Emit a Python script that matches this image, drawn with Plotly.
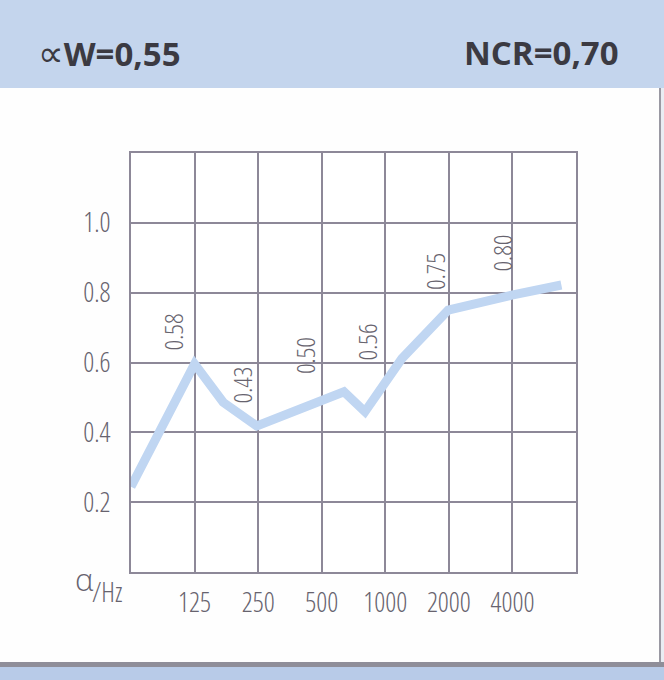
import plotly.graph_objects as go

# ---- data ----
freq_labels = ["125", "250", "500", "1000", "2000", "4000"]
alpha_values = [0.58, 0.43, 0.50, 0.56, 0.75, 0.80]
y_tick_labels = ["0.2", "0.4", "0.6", "0.8", "1.0"]
# hand-drawn curve (position on frequency axis in band units, alpha)
curve_pos = [0.0, 1.0, 1.45, 1.98, 3.35, 3.68, 4.26, 4.99, 5.99, 6.77]
curve_alpha = [0.244, 0.596, 0.486, 0.418, 0.516, 0.459, 0.611, 0.75, 0.793, 0.822]
header_symbol = "∝"
header_left = "W=0,55"
header_right = "NCR=0,70"

# ---- styling / layout ----
W, H = 664, 680
L, R, T, B = 131, 576, 153, 572
FONT = "Open Sans, Noto Sans, DejaVu Sans, sans-serif"
GRID = "#8d8898"
TXT = "#67636e"
HEAD = "#3b3a42"
WT = 360


def cond(s, pct=75):
    return f'<span style="font-stretch:{pct}%">{s}</span>'


label_dx = [-0.34, -0.26, -0.26, -0.29, -0.22, -0.17]
label_y = [0.689, 0.536, 0.619, 0.660, 0.862, 0.914]

fig = go.Figure()
fig.add_trace(go.Scatter(
    x=curve_pos, y=curve_alpha, mode="lines",
    line=dict(color="#c0d6f2", width=9), hoverinfo="skip", showlegend=False))

n = len(freq_labels)
xt = list(range(n + 2))
fig.update_xaxes(range=[0, n + 1], tickvals=xt,
                 ticktext=[""] + [cond(t) for t in freq_labels] + [""],
                 showgrid=True, gridcolor=GRID, gridwidth=2,
                 showline=True, linecolor=GRID, linewidth=2, mirror=True,
                 zeroline=False, ticks="outside", ticklen=6, tickcolor="rgba(0,0,0,0)",
                 tickfont=dict(family=FONT, size=27, color=TXT, weight=WT), fixedrange=True)
yt = [round(0.2 * i, 1) for i in range(7)]
fig.update_yaxes(range=[0, 1.2], tickvals=yt,
                 ticktext=[""] + [cond(t) for t in y_tick_labels] + [""],
                 showgrid=True, gridcolor=GRID, gridwidth=2,
                 showline=True, linecolor=GRID, linewidth=2, mirror=True,
                 zeroline=False, ticks="outside", ticklen=13, tickcolor="rgba(0,0,0,0)",
                 tickfont=dict(family=FONT, size=27, color=TXT, weight=WT), fixedrange=True)

ann = []
for i, v in enumerate(alpha_values):
    ann.append(dict(x=i + 1 + label_dx[i], y=label_y[i], xref="x", yref="y",
                    text=cond(f"{v:.2f}"), textangle=-90, showarrow=False,
                    font=dict(family=FONT, size=26, color=TXT, weight=WT)))


def px_x(p):
    return (p - L) / (R - L)


def px_y(p):
    return (B - p) / (B - T)


left_text = (f'<span style="font-weight:400;font-size:36px">{header_symbol}</span>'
             f'<b>{header_left}</b>')
ann.append(dict(x=px_x(36), y=px_y(53), xref="paper", yref="paper", xanchor="left",
                yanchor="middle", text=left_text, showarrow=False,
                font=dict(family=FONT, size=33, color=HEAD)))
ann.append(dict(x=px_x(621), y=px_y(53), xref="paper", yref="paper", xanchor="right",
                yanchor="middle", text=f"<b>{header_right}</b>", showarrow=False,
                font=dict(family=FONT, size=33, color=HEAD)))
ann.append(dict(x=px_x(73), y=px_y(579), xref="paper", yref="paper", xanchor="left",
                yanchor="middle", text="α", showarrow=False,
                font=dict(family=FONT, size=31, color=TXT, weight=WT)))
ann.append(dict(x=px_x(90), y=px_y(591), xref="paper", yref="paper", xanchor="left",
                yanchor="middle", text=cond("/Hz"), showarrow=False,
                font=dict(family=FONT, size=27, color=TXT, weight=WT)))

shapes = [
    dict(type="rect", xref="paper", yref="paper", x0=px_x(0), x1=px_x(W),
         y0=px_y(88), y1=px_y(0), fillcolor="#c4d5ed", line=dict(width=0), layer="below"),
    dict(type="rect", xref="paper", yref="paper", x0=px_x(0), x1=px_x(W),
         y0=px_y(H), y1=px_y(667), fillcolor="#b8cbe8", line=dict(width=0), layer="below"),
    dict(type="rect", xref="paper", yref="paper", x0=px_x(0), x1=px_x(W),
         y0=px_y(667), y1=px_y(662), fillcolor="#8f8e99", line=dict(width=0), layer="below"),
    dict(type="rect", xref="paper", yref="paper", x0=px_x(659), x1=px_x(661),
         y0=px_y(662), y1=px_y(88), fillcolor="#9a99a3", line=dict(width=0), layer="below"),
    dict(type="rect", xref="paper", yref="paper", x0=px_x(661), x1=px_x(W),
         y0=px_y(662), y1=px_y(88), fillcolor="#e9ecf3", line=dict(width=0), layer="below"),
]

fig.update_layout(width=W, height=H, margin=dict(l=L, r=W - R, t=T, b=H - B),
                  paper_bgcolor="#fefefe", plot_bgcolor="#ffffff",
                  annotations=ann, shapes=shapes, showlegend=False)

post = "document.body.style.margin = '0';"

fig.write_html("out.html", config={"displayModeBar": False}, post_script=post)
